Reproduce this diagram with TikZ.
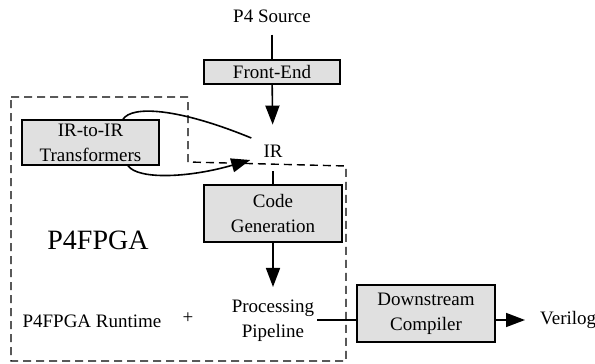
\documentclass[tikz,border=0pt]{standalone}
\usepackage{fontspec}
\setmainfont{Liberation Serif}
\usetikzlibrary{arrows.meta,calc}
\definecolor{boxfill}{RGB}{224,224,224}
\begin{document}
\begin{tikzpicture}[x=1pt,y=-1pt,
  every node/.style={font=\fontsize{19}{25}\selectfont, align=center, inner sep=0pt},
  gbox/.style={draw=black, fill=boxfill, line width=1.5pt},
  conn/.style={line width=1.6pt},
  arr/.style={line width=1.6pt, -{Triangle[length=19pt,width=14pt]}},
  region/.style={line width=1.4pt, dash pattern=on 8pt off 5pt}]
\useasboundingbox (0,0) rectangle (595,364);
% dashed region
\draw[region] (11,97) -- (188,97) -- (188,162) -- (346,166) -- (346,361) -- (11,361) -- cycle;
% nodes
\node (src) at (272,16) {P4 Source};
\node[gbox, minimum width=136pt, minimum height=24pt] (fe) at (272,72) {Front-End};
\node (ir) at (273,151) {IR};
\node[gbox, minimum width=137pt, minimum height=45pt] (tr) at (90.5,142.5) {IR-to-IR\\Transformers};
\node[gbox, minimum width=138pt, minimum height=57pt] (cg) at (273,213.5) {Code\\Generation};
\node (pp) at (273,321) {Processing\\Pipeline};
\node (rt) at (92,321) {P4FPGA Runtime};
\node (plus) at (188,318) {+};
\node[font=\fontsize{28}{30}\selectfont] (big) at (98,240) {P4FPGA};
\node[gbox, minimum width=138pt, minimum height=57pt] (ds) at (426,313.5) {Downstream\\Compiler};
\node[anchor=west] (ver) at (540,320) {Verilog};
% connectors
\draw[conn, shorten <=12pt] (src) -- (fe);
\draw[arr, shorten >=20pt] (fe) -- (ir);
\draw[conn, shorten <=14pt] (ir) -- (cg);
\draw[arr, shorten >=13pt] (cg) -- (pp);
\coordinate (t1) at ($(tr.north)+(32.5,0)$);
\coordinate (t2) at ($(ir.west)+(-12,-13)$);
\draw[conn] (t1) .. controls +(9,-14) and +(-73,-30) .. (t2);
\coordinate (b1) at ($(tr.south)+(37.5,0)$);
\coordinate (b2) at ($(ir.west)+(-13,9)$);
\draw[arr] (b1) .. controls +(10,14) and +(-62,18) .. (b2);
\draw[conn] ($(pp.east)+(3,-1)$) -- ($(pp.east -| ds.west)+(0,-1)$);
\draw[arr, shorten >=15pt] (ds.east |- ver.west) -- (ver.west);
\end{tikzpicture}
\end{document}
